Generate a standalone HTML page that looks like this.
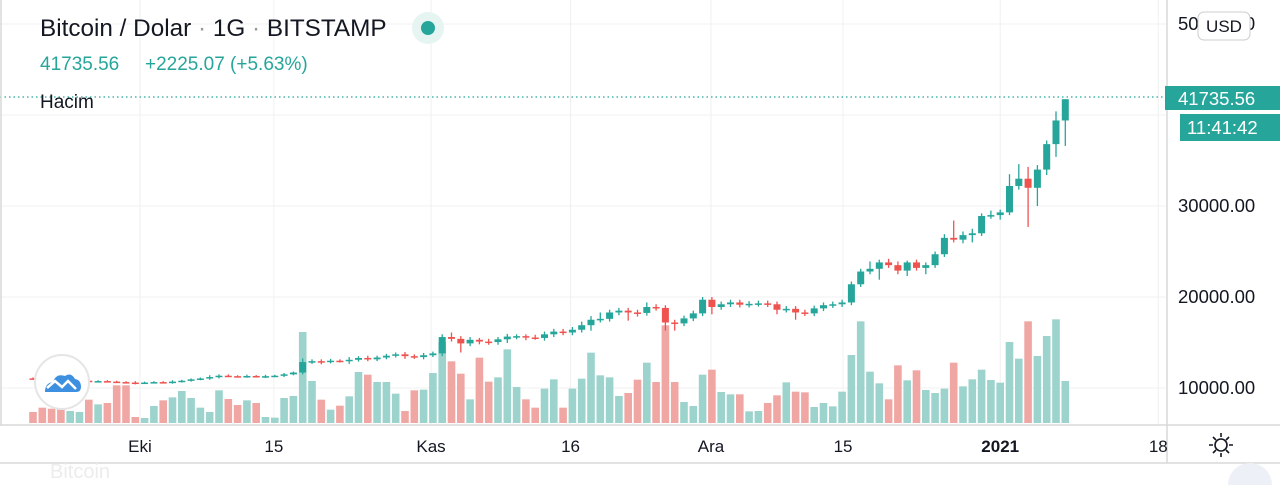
<!DOCTYPE html>
<html><head><meta charset="utf-8"><style>
body{margin:0;width:1280px;height:485px;overflow:hidden;background:#fff;font-family:"Liberation Sans",sans-serif;}
#wrap{position:relative;width:1280px;height:485px;overflow:hidden;}
svg{position:absolute;left:0;top:0;overflow:hidden;}
</style></head><body><div id="wrap">
<svg id="chart" width="1280" height="485">
<g id="grid"></g>
<g id="vol"></g>
<g id="candles"></g>
<line x1="0" y1="97" x2="1166" y2="97" stroke="#26a69a" stroke-dasharray="1.5,3" stroke-width="1.2"/>
<line x1="1167" y1="0" x2="1167" y2="463" stroke="#d8d8d8" stroke-width="1.5"/>
<line x1="0" y1="425" x2="1280" y2="425" stroke="#d8d8d8" stroke-width="1.5"/>
<line x1="0" y1="463" x2="1280" y2="463" stroke="#d8d8d8" stroke-width="1.5"/>
<line x1="1" y1="0" x2="1" y2="425" stroke="#d8d8d8" stroke-width="1.5"/>
<g id="yaxis" font-size="18.5" fill="#131722"></g>
<g id="xaxis" font-size="17" fill="#131722" text-anchor="middle"></g>
<rect x="1198" y="12" width="52" height="28" rx="6" fill="#fff" stroke="#ccc"/>
<text x="1224" y="32" font-size="17" text-anchor="middle" fill="#131722">USD</text>
<rect x="1165" y="86" width="115" height="24" fill="#26a69a"/>
<text x="1178" y="105" font-size="18.5" fill="#fff">41735.56</text>
<rect x="1180" y="114" width="100" height="27" fill="#26a69a"/>
<text x="1187" y="134" font-size="18.5" fill="#fff">11:41:42</text>
<text x="40" y="36" font-size="24.3" fill="#131722">Bitcoin / Dolar <tspan fill="#999">·</tspan> 1G <tspan fill="#999">·</tspan> BITSTAMP</text>
<circle cx="428" cy="28" r="16" fill="#e6f4f2"/>
<circle cx="428" cy="28" r="7" fill="#26a69a"/>
<text y="70" font-size="19" fill="#26a69a"><tspan x="40">41735.56</tspan><tspan x="145">+2225.07 (+5.63%)</tspan></text>
<text x="40" y="108" font-size="19" fill="#131722">Hacim</text>
<g stroke="#131722" stroke-width="1.6" fill="none">
<circle cx="1221" cy="445" r="6"/>
<path d="M1221 433v4M1221 453v4M1209 445h4M1229 445h4M1213 437l3 3M1226 450l3 3M1213 453l3-3M1226 440l3-3"/>
</g>
<g>
<circle cx="62" cy="382" r="27" fill="#fff" stroke="#e5e5e5" stroke-width="2"/>
<path d="M45 392 q0-9 8-10 q3-9 12-6 q6-4 10 3 q6 1 6 8 q0 5-5 5 h-26 q-5 0-5-0z" fill="#3d8fe0"/>
<path d="M47 388 l8-7 l7 6 l6-6 l8 8" stroke="#fff" stroke-width="2.5" fill="none"/>
</g>
<text x="50" y="478" font-size="20" fill="#ececec">Bitcoin</text>
<path d="M1228 485 a22 22 0 0 1 44 0z" fill="#eef0f8"/>
</svg></div>
<script>
const closes=[11050,10980,10900,10750,10780,10800,10720,10760,10700,10650,10600,10550,10600,10650,10620,10700,10800,10950,11050,11200,11350,11300,11280,11320,11250,11300,11350,11500,11700,12850,12950,12900,13000,12950,13100,13300,13150,13350,13550,13700,13500,13400,13600,13800,15600,15400,14900,15300,15100,15050,15350,15650,15700,15550,15500,15900,16200,16100,16400,16900,17500,17600,18300,18500,18300,18250,18900,18800,17200,17100,17650,18200,19700,18900,19200,19400,19150,19250,19300,19200,18600,18700,18300,18200,18750,19100,19200,19400,21400,22800,23100,23800,23500,22900,23800,23200,23500,24700,26500,26300,26800,27000,28900,29000,29300,32200,33000,32000,34000,36800,39400,41735];
const wickUp=[100,100,100,100,100,100,100,100,100,100,100,150,100,100,100,150,100,100,100,200,150,150,100,150,100,150,100,150,100,400,200,200,200,150,300,200,250,200,200,200,250,200,250,200,300,500,300,300,200,300,250,300,200,200,300,300,300,300,300,400,400,700,300,300,300,300,500,300,300,300,300,300,300,300,300,300,300,300,300,300,300,300,300,300,300,300,300,300,300,300,800,300,400,400,200,300,300,300,400,1900,400,500,300,500,300,1300,1600,1300,500,400,1000,0];
const wickDn=[100,100,100,100,100,100,100,100,100,100,100,150,100,100,100,150,100,100,100,150,150,100,100,150,100,150,100,150,100,200,200,300,200,150,300,200,200,200,200,200,300,200,250,200,300,300,1000,300,300,300,300,400,300,300,200,300,300,300,300,300,600,300,300,300,900,400,300,300,900,800,300,300,300,800,300,300,300,300,300,300,500,300,800,300,300,300,300,300,300,300,300,1200,300,400,600,300,700,300,300,300,400,800,300,300,500,300,400,4300,2000,600,1400,2800];
const volumes=[33,46,43,88,36,33,70,56,60,113,113,18,15,51,68,77,96,75,46,33,98,72,54,68,60,18,16,75,81,273,126,70,40,52,80,153,145,123,123,88,36,98,100,150,243,185,148,71,196,124,137,221,108,71,46,103,131,46,103,133,211,143,137,81,90,130,181,123,293,123,63,51,145,160,93,86,86,35,36,60,83,122,94,92,48,60,50,94,204,305,154,119,71,173,128,158,99,90,103,181,110,131,160,129,121,243,193,305,201,261,311,126];
const priceTicks=[10000,20000,30000,40000,50000];
const tickLabels=["10000.00","20000.00","30000.00","","50000.00"];
const dateLabels=["Eki","15","Kas","16","Ara","15","2021","18"];
const dateIndex=[11.5,25.9,42.8,57.8,72.9,87.1,104,121];
const firstClose=11060;

const NS="http://www.w3.org/2000/svg";
const X0=33,STEP=9.3;
function xOf(i){return X0+i*STEP;}
function yOf(p){return 297-(p-20000)*0.0091;}
function vOf(v){return 423-v/3;}
function mk(tag,attrs,parent){const e=document.createElementNS(NS,tag);for(const k in attrs)e.setAttribute(k,attrs[k]);parent.appendChild(e);return e;}
const grid=document.getElementById('grid'),vol=document.getElementById('vol'),cg=document.getElementById('candles'),ya=document.getElementById('yaxis'),xa=document.getElementById('xaxis');
priceTicks.forEach((p,k)=>{
  const y=yOf(p);
  const l=mk('line',{x1:0,x2:1166,y1:y,y2:y,stroke:'#f0f0f0'},grid);
  
  
  if(tickLabels[k]){const t=mk('text',{x:1178,y:y+6},ya);t.textContent=tickLabels[k];
  
  }
});
dateLabels.forEach((d,k)=>{
  const x=xOf(dateIndex[k]);
  const l=mk('line',{x1:x,x2:x,y1:0,y2:424,stroke:'#f0f0f0'},grid);
  
  
  const t=mk('text',{x:x,y:452},xa);t.textContent=d;
  if(d==="2021")t.setAttribute('font-weight','bold');
  
  
});
closes.forEach((c,i)=>{
  const o=i===0?firstClose:closes[i-1];
  const up=c>=o;
  const x=xOf(i);
  const hv=vOf(volumes[i]);
  const b=mk('rect',{x:x-3.8,y:hv,width:7.6,height:423-hv,fill:up?'#9dd3cd':'#f0a7a3'},vol);
  
  
  const col=up?'#26a69a':'#ef5350';
  const hi=Math.max(o,c)+wickUp[i],lo=Math.min(o,c)-wickDn[i];
  const w=mk('line',{x1:x,x2:x,y1:yOf(hi),y2:yOf(lo),stroke:col,'stroke-width':1.3},cg);
  
  
  const yt=yOf(Math.max(o,c)),yb=yOf(Math.min(o,c));
  const r=mk('rect',{x:x-3.5,y:yt,width:7,height:Math.max(1.5,yb-yt),fill:col},cg);
  
  
});
</script></body></html>
